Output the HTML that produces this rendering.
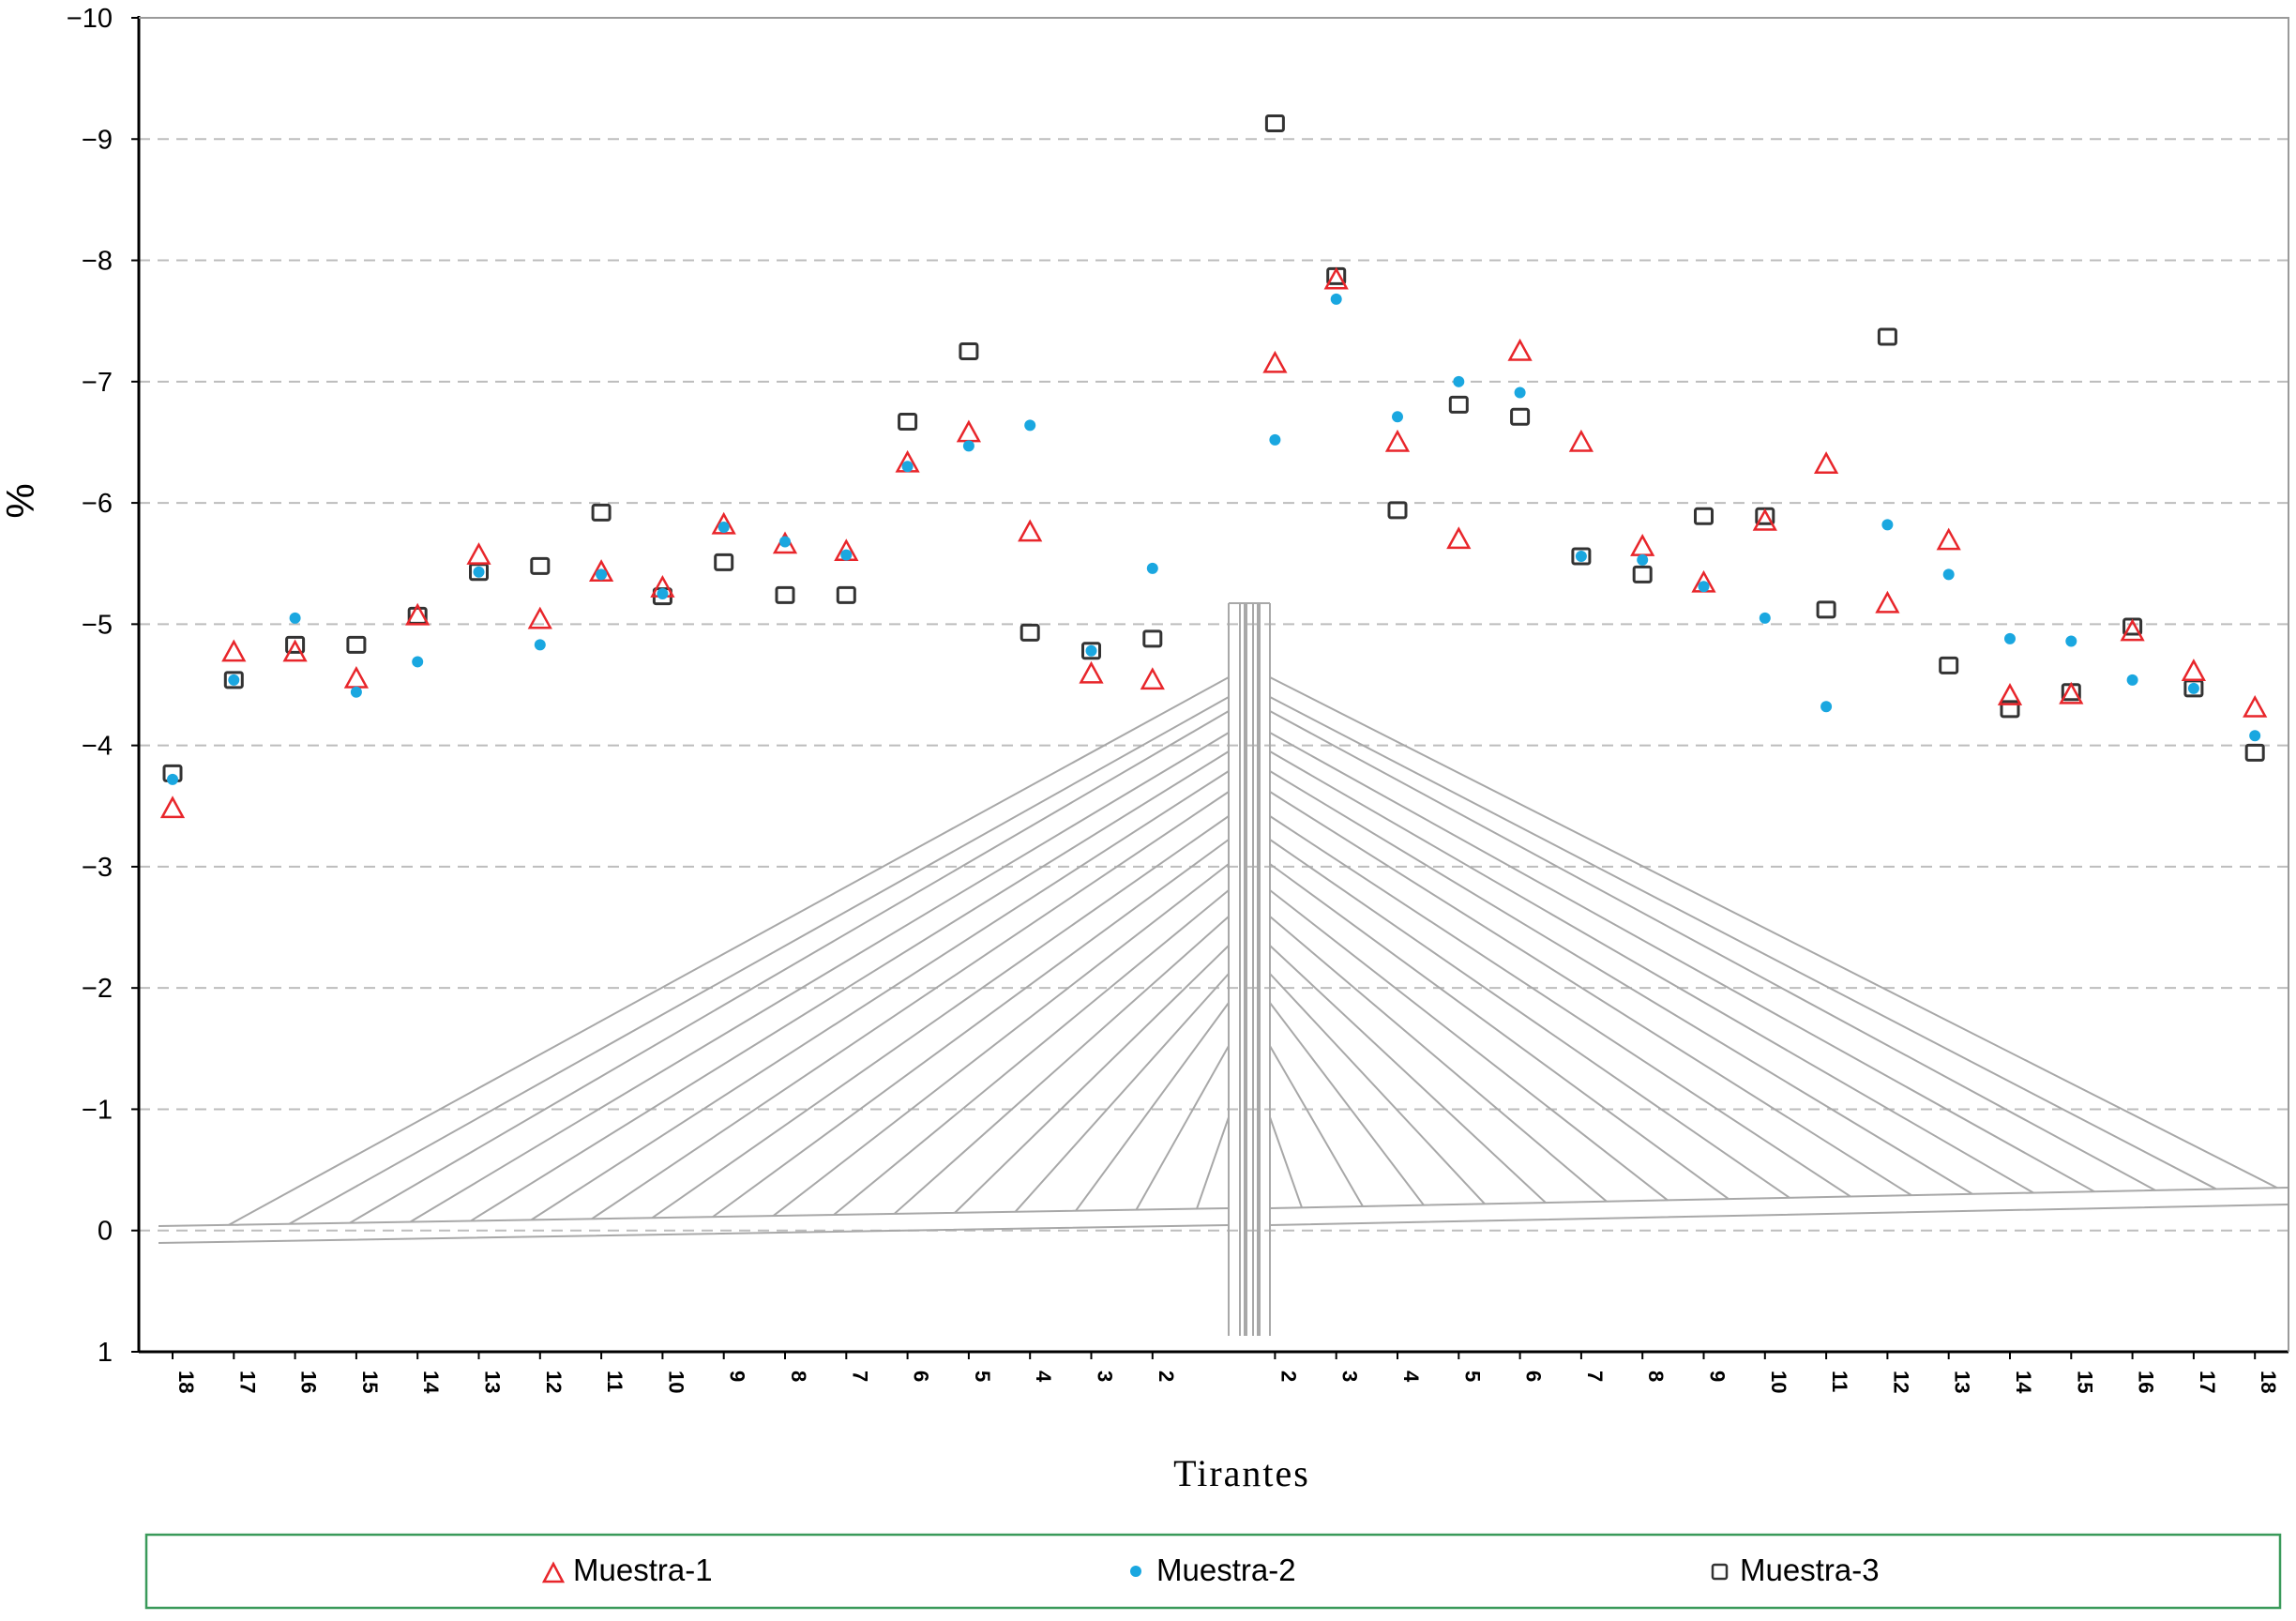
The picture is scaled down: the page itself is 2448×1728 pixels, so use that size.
<!DOCTYPE html>
<html><head><meta charset="utf-8"><style>
html,body{margin:0;padding:0;background:#fff;}
svg{display:block;font-family:"Liberation Sans",sans-serif;}
</style></head><body>
<svg id="chart" width="2448" height="1728" viewBox="0 0 2448 1728">
<g id="grid"></g>
<g id="bridge" stroke="#a8a8a8" fill="none" stroke-width="2"></g>
<g id="axes"></g>
<g id="marks"></g>
<text x="1324" y="1584" text-anchor="middle" font-family="Liberation Serif,serif" font-size="40" letter-spacing="2">Tirantes</text>
<text transform="translate(36,534) rotate(-90)" text-anchor="middle" font-size="42">%</text>
<g>
<rect x="156" y="1636" width="2275" height="78" fill="#fff" stroke="#3a9a5a" stroke-width="2.5"/>
<g><path d="M580,1686 L590,1667 L600,1686 Z" fill="none" stroke="#e8262b" stroke-width="2.5"/><text x="611" y="1685" font-size="33">Muestra-1</text></g>
<g><circle cx="1211" cy="1675" r="6" fill="#1aa7e0"/><text x="1233" y="1685" font-size="33">Muestra-2</text></g>
<g><rect x="1826" y="1668" width="15" height="15" rx="2" fill="none" stroke="#333" stroke-width="2.5"/><text x="1855" y="1685" font-size="33">Muestra-3</text></g>
</g>
</svg>
<script>
const leftLabels = ["18","17","16","15","14","13","12","11","10","9","8","7","6","5","4","3","2"];
const rightLabels = ["2","3","4","5","6","7","8","9","10","11","12","13","14","15","16","17","18"];
const yTicks = [-10,-9,-8,-7,-6,-5,-4,-3,-2,-1,0,1];
const muestra1 = [-3.48,-4.77,-4.77,-4.55,-5.07,-5.57,-5.04,-5.43,-5.30,-5.82,-5.66,-5.60,-6.33,-6.58,-5.76,-4.59,-4.54,
  -7.15,-7.84,-6.50,-5.70,-7.25,-6.50,-5.64,-5.34,-5.85,-6.32,-5.17,-5.69,-4.41,-4.42,-4.94,-4.61,-4.31];
const muestra2 = [-3.72,-4.54,-5.05,-4.44,-4.69,-5.43,-4.83,-5.41,-5.25,-5.80,-5.68,-5.57,-6.30,-6.47,-6.64,-4.78,-5.46,
  -6.52,-7.68,-6.71,-7.00,-6.91,-5.56,-5.53,-5.31,-5.05,-4.32,-5.82,-5.41,-4.88,-4.86,-4.54,-4.47,-4.08];
const muestra3 = [-3.77,-4.54,-4.83,-4.83,-5.07,-5.43,-5.48,-5.92,-5.23,-5.51,-5.24,-5.24,-6.67,-7.25,-4.93,-4.78,-4.88,
  -9.13,-7.87,-5.94,-6.81,-6.71,-5.56,-5.41,-5.89,-5.89,-5.12,-7.37,-4.66,-4.30,-4.44,-4.98,-4.47,-3.94];

const NS='http://www.w3.org/2000/svg';
const X0=148, X1=2440, Y0=19, Y1=1441;
const categories = leftLabels.concat(rightLabels);
function slot(i){ return i<leftLabels.length ? i : i+1; }
function xs(i){ return 184 + slot(i)*65.3; }
function ys(v){ return Y0 + (v-(-10))*(Y1-Y0)/11; }
function mk(tag, attrs, parent){ const e=document.createElementNS(NS,tag); for(const k in attrs) e.setAttribute(k,attrs[k]); parent.appendChild(e); return e; }
const grid=document.getElementById('grid'), axes=document.getElementById('axes'), marks=document.getElementById('marks'), bridge=document.getElementById('bridge');

yTicks.forEach(t=>{
  const y=ys(t);
  if(t!==1){ const l=mk('line',{x1:X0,x2:X1,y1:y,y2:y,stroke:'#bdbdbd','stroke-width':2,'stroke-dasharray':'12,8'},grid);
      }
  const tk=mk('line',{x1:X0-8,x2:X0,y1:y,y2:y,stroke:'#000','stroke-width':2},axes);
   
  const tx=mk('text',{x:X0-28,y:y+10,'text-anchor':'end','font-size':29},axes);
  tx.textContent = t<0 ? '\u2212'+Math.abs(t) : String(t);
   
});
const ya=mk('line',{x1:X0,x2:X0,y1:Y0-2,y2:Y1,stroke:'#000','stroke-width':3},axes);
 
const xa=mk('line',{x1:X0,x2:X1,y1:Y1,y2:Y1,stroke:'#000','stroke-width':3},axes);
 
const fr=mk('path',{d:`M${X0},${Y0} H${X1} V${Y1}`,stroke:'#9a9a9a','stroke-width':2,fill:'none'},axes);
 
categories.forEach((c,i)=>{
  const x=xs(i);
  const tk=mk('line',{x1:x,x2:x,y1:Y1,y2:Y1+8,stroke:'#000','stroke-width':2},axes);
   
  const tx=mk('text',{transform:`translate(${x+7},${Y1+20}) rotate(90)`,'font-size':22,'font-weight':'bold'},axes);
  tx.textContent=c;
   
});

// bridge drawing (decorative)
function deckTopL(x){ return 1307 + (1288-1307)*(x-169)/(1310-169); }
function deckTopR(x){ return 1288 + (1266-1288)*(x-1354)/(2440-1354); }
const attach=[722,743,758,781,801,822,844,870,895,921,949,977,1008,1038,1069,1115,1191];
mk('path',{d:`M169,${deckTopL(169)} L1310,1288 M169,${deckTopL(169)+18} L1310,1306`},bridge);
mk('path',{d:`M1354,1288 L2440,1266 M1354,1306 L2440,1284`},bridge);
for(let k=0;k<17;k++){
  const xl=244+k*64.5, xr=2428-k*65;
  mk('line',{x1:1310,y1:attach[k],x2:xl,y2:deckTopL(xl)},bridge);
  mk('line',{x1:1354,y1:attach[k],x2:xr,y2:deckTopR(xr)},bridge);
}
[1310,1322,1328,1336,1342,1354].forEach(x=>mk('line',{x1:x,x2:x,y1:643,y2:1424,'stroke-width':x===1328||x===1342?4:2},bridge));
mk('line',{x1:1310,x2:1354,y1:643,y2:643},bridge);

function tri(x,y){ const p=mk('path',{d:`M${x-11},${y+9} L${x},${y-11} L${x+11},${y+9} Z`,fill:'none',stroke:'#e8262b','stroke-width':2.5},marks);
    }
function dot(x,y){ const c=mk('circle',{cx:x,cy:y,r:6,fill:'#1aa7e0'},marks);
    }
function sq(x,y){ const r=mk('rect',{x:x-9,y:y-8,width:18,height:16,rx:2,fill:'none',stroke:'#333','stroke-width':3},marks);
    }
muestra3.forEach((v,i)=>sq(xs(i),ys(v)));
muestra1.forEach((v,i)=>tri(xs(i),ys(v)));
muestra2.forEach((v,i)=>dot(xs(i),ys(v)));
</script>
</body></html>
